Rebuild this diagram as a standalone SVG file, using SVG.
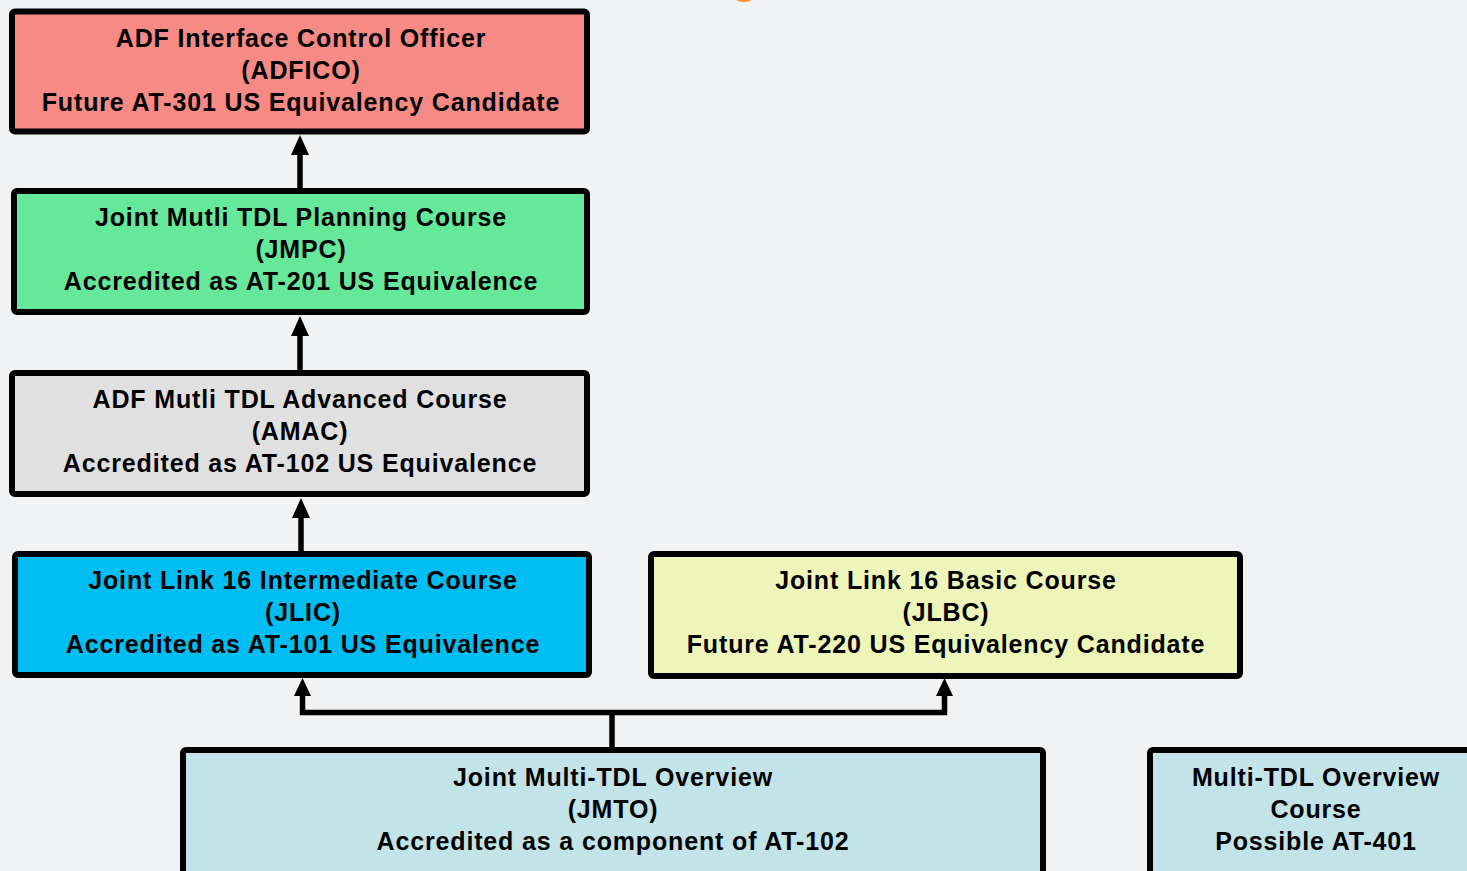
<svg xmlns="http://www.w3.org/2000/svg" width="1467" height="871" viewBox="0 0 1467 871">
<defs>
<style>
.box{stroke:#000;stroke-width:6;}
.t{font-family:"Liberation Sans",Arial,sans-serif;font-weight:bold;font-size:25px;letter-spacing:0.85px;fill:#000;text-anchor:middle;}
.c{fill:none;stroke:#000;stroke-width:5.5;}
</style>
</defs>
<rect width="1467" height="871" fill="#F1F2F4"/>
<ellipse cx="744" cy="-8" rx="13" ry="10" fill="#F7931E"/>
<g id="connectors">
<line class="c" x1="300" y1="188" x2="300" y2="155"/>
<path d="M291,155 L300,135 L309,155 Z"/>
<line class="c" x1="300" y1="370" x2="300" y2="336"/>
<path d="M291,336 L300,316 L309,336 Z"/>
<line class="c" x1="301" y1="551" x2="301" y2="518"/>
<path d="M292,518 L301,498 L310,518 Z"/>
<path class="c" d="M612,748 L612,712.5 M302.5,696 L302.5,712.5 L944.5,712.5 L944.5,696"/>
<path d="M294,696 L302.5,678 L311,696 Z"/>
<path d="M936,696 L944.5,678 L953,696 Z"/>
</g>
<g id="adfico">
<rect class="box" x="12" y="11.5" width="575" height="120" rx="3" fill="#F88A85"/>
<text class="t" x="301" y="47">ADF Interface Control Officer</text>
<text class="t" x="301" y="79">(ADFICO)</text>
<text class="t" x="301" y="111">Future AT-301 US Equivalency Candidate</text>
</g>
<g id="jmpc">
<rect class="box" x="14" y="191" width="573" height="121" rx="3" fill="#66E89A"/>
<text class="t" x="301" y="226">Joint Mutli TDL Planning Course</text>
<text class="t" x="301" y="258">(JMPC)</text>
<text class="t" x="301" y="290">Accredited as AT-201 US Equivalence</text>
</g>
<g id="amac">
<rect class="box" x="12" y="373" width="575" height="121" rx="3" fill="#E0E0E0"/>
<text class="t" x="300" y="408">ADF Mutli TDL Advanced Course</text>
<text class="t" x="300" y="440">(AMAC)</text>
<text class="t" x="300" y="472">Accredited as AT-102 US Equivalence</text>
</g>
<g id="jlic">
<rect class="box" x="15" y="554" width="574" height="121" rx="3" fill="#00BEF2"/>
<text class="t" x="303" y="589">Joint Link 16 Intermediate Course</text>
<text class="t" x="303" y="621">(JLIC)</text>
<text class="t" x="303" y="653">Accredited as AT-101 US Equivalence</text>
</g>
<g id="jlbc">
<rect class="box" x="651" y="554" width="589" height="122" rx="3" fill="#EEF5B8"/>
<text class="t" x="946" y="589">Joint Link 16 Basic Course</text>
<text class="t" x="946" y="621">(JLBC)</text>
<text class="t" x="946" y="653">Future AT-220 US Equivalency Candidate</text>
</g>
<g id="jmto">
<rect class="box" x="183" y="750" width="860" height="130" rx="3" fill="#C2E4E8"/>
<text class="t" x="613" y="786">Joint Multi-TDL Overview</text>
<text class="t" x="613" y="818">(JMTO)</text>
<text class="t" x="613" y="850">Accredited as a component of AT-102</text>
</g>
<g id="mtoc">
<rect class="box" x="1150" y="750" width="330" height="130" rx="3" fill="#C2E4E8"/>
<text class="t" x="1316" y="786">Multi-TDL Overview</text>
<text class="t" x="1316" y="818">Course</text>
<text class="t" x="1316" y="850">Possible AT-401</text>
</g>
</svg>
